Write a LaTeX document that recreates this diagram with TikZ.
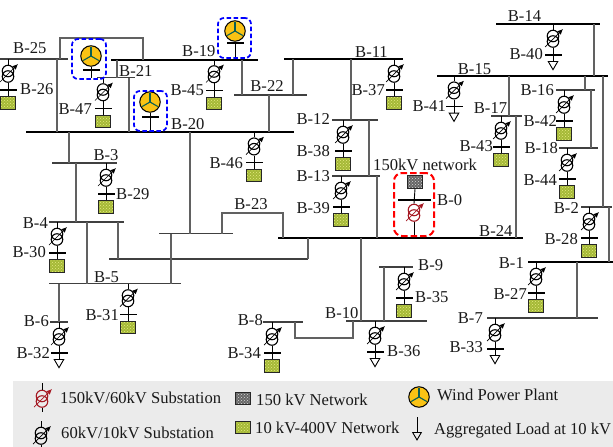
\documentclass[tikz,border=0pt]{standalone}
\usepackage{fontspec}
\setmainfont{Liberation Serif}
\usepackage{tikz}
\usetikzlibrary{shapes.geometric, arrows.meta, patterns}

\definecolor{loadgreen}{RGB}{165,185,55}
\definecolor{loaddot}{RGB}{230,235,130}
\definecolor{rotoryellow}{RGB}{250,195,20}
\definecolor{bladeteal}{RGB}{10,95,85}
\definecolor{coilred}{RGB}{165,25,35}

% busbar: name, from x, to x, y
\newcommand{\busbar}[5][]{\node[bus, #1, anchor=west, minimum width={#4pt-#3pt}] (#2) at (#3,#5) {};}
% pair of coils with tap arrow: name, x, y, colour
\newcommand{\coils}[4]{
  \node[coil, draw=#4] (#1a) at (#2,#3) {};
  \node[coil, draw=#4] (#1b) at (#2,#3+5.5) {};
  \draw[tap, #4] ([shift={(-8,11)}]#1a.center) -- ([shift={(10,-7)}]#1a.center);
}
% substation hanging from a bus: name, x, bus, tail style
\newcommand{\substation}[4]{
  \path (#2,0 |- #3) ++(0,12) node[coil] (#1a) {} ++(0,5.5) node[coil] (#1b) {} ++(0,13.5) node[stub] (#1bar) {};
  \node[#4, anchor=north] (#1tail) at ([yshift=-6pt]#1bar.center) {};
  \draw[stem] (#2,0 |- #3) -- (#1a.north);
  \draw[stem] (#1b.south) -- (#1tail.north);
  \draw[tap] ([shift={(-8,11)}]#1a.center) -- ([shift={(10,-7)}]#1a.center);
}
% wind rotor: name, x, y
\newcommand{\windrotor}[3]{
  \node[rotor] (#1) at (#2,#3) {};
  \foreach \ang in {270,30,150} {\draw[blade] (#1.center) -- ++(\ang:9);}
}

\begin{document}
\begin{tikzpicture}[
    x=1pt, y=-1pt,
    font=\fontsize{16.6}{16.6}\selectfont,
    bus/.style={rectangle, inner sep=0, outer sep=0, minimum height=1.4pt, fill=black!75},
    mainbus/.style={minimum height=2pt, fill=black},
    feeder/.style={line width=1.2pt, draw=black!62},
    coil/.style={circle, draw, line width=1.1pt, inner sep=0, minimum size=11.5pt},
    stub/.style={rectangle, inner sep=0, outer sep=0, minimum width=17pt, minimum height=1.1pt, fill=black},
    stem/.style={line width=0.9pt, draw=black},
    tap/.style={-{Latex[length=5.5pt,width=5pt]}, line width=0.7pt},
    loadbox/.style={rectangle, draw=black!85, line width=1pt, inner sep=0, minimum width=14.5pt, minimum height=12.5pt, preaction={fill=loadgreen}, pattern=crosshatch dots, pattern color=loaddot},
    netbox/.style={rectangle, draw=black!85, line width=1pt, inner sep=0, minimum width=14.5pt, minimum height=12.5pt, preaction={fill=black!60}, pattern=crosshatch dots, pattern color=black!15},
    loadtip/.style={regular polygon, regular polygon sides=3, shape border rotate=180, draw=black, line width=0.9pt, inner sep=0, minimum size=11pt},
    rotor/.style={circle, draw=black, line width=1pt, fill=rotoryellow, inner sep=0, minimum size=20.5pt},
    blade/.style={line width=1.1pt, draw=bladeteal},
    plantframe/.style={rectangle, draw=blue, line width=1.7pt, dash pattern=on 4.5pt off 2.5pt, rounded corners=6pt, inner sep=0},
    gridframe/.style={rectangle, draw=red, line width=2pt, dash pattern=on 6.5pt off 3pt, rounded corners=8pt, inner sep=0},
    lbl/.style={inner sep=0, text=black!90},
    legendbg/.style={rectangle, fill=black!8, inner sep=0, anchor=north west}
]
\useasboundingbox (0,0) rectangle (613,447);

% Legend background
\node[legendbg, minimum width=600pt, minimum height=66pt] (legend) at (13,381) {};

% Buses
\busbar{b25}{0}{68}{59}
\busbar[mainbus]{b19}{111}{258}{59.5}
\busbar{b21}{97}{135}{77.5}
\busbar{b22}{234}{307}{95}
\busbar[mainbus]{b11}{284}{403}{59}
\busbar[mainbus]{b20}{26}{294}{131.7}
\busbar{b3}{52}{117}{163}
\busbar{b4}{49}{124}{222}
\busbar{b5}{49}{181}{283.5}
\busbar{b6}{50}{68}{322}
\busbar{b23}{159}{233}{233.7}
\busbar{b4link}{109}{308}{259}
\busbar{b12}{332}{378}{120}
\busbar{b13}{332}{380}{176}
\busbar[mainbus]{b24}{278}{523}{238}
\busbar{b8}{263}{303}{322}
\busbar{b10}{346}{427}{321}
\busbar{b9}{379}{413}{267}
\busbar[mainbus]{b14}{496}{600}{24}
\busbar[mainbus]{b15}{437}{608}{75.7}
\busbar{b16}{556}{595}{90}
\busbar{b17}{491}{522}{116}
\busbar{b18}{559}{598}{148}
\busbar{b2}{581}{612}{207}
\busbar[mainbus]{b1}{528}{613}{262}
\busbar{b7}{487}{598}{318}
\busbar[stub]{b0}{398}{431}{200}

% Feeders
\draw[feeder] (57,0 |- b25) -- (57,0 |- b20);
\draw[feeder] (60,0 |- b25) -- (60,38) -| (143,0 |- b19);
\draw[feeder] (117,0 |- b19) -- (117,0 |- b21);
\draw[feeder] (129,0 |- b21) -- (129,0 |- b20);
\draw[feeder] (242,0 |- b19) -- (242,0 |- b22);
\draw[feeder] (269,0 |- b22) -- (269,0 |- b20);
\draw[feeder] (293,0 |- b11) -- (293,0 |- b22);
\draw[feeder] (351,0 |- b11) -- (351,0 |- b12);
\draw[feeder] (369,0 |- b12) -- (369,0 |- b13);
\draw[feeder] (377,0 |- b13) -- (377,0 |- b24);
\draw[feeder] (69,0 |- b20) -- (69,0 |- b3);
\draw[feeder] (76,0 |- b3) -- (76,0 |- b4);
\draw[feeder] (87,0 |- b4) -- (87,0 |- b5);
\draw[feeder] (118,0 |- b4) -- (118,0 |- b4link);
\draw[feeder] (308,0 |- b4link) -- (308,0 |- b24);
\draw[feeder] (190,0 |- b20) -- (190,0 |- b23);
\draw[feeder] (171,0 |- b23) -- (171,0 |- b5);
\draw[feeder] (222,0 |- b23) -- (222,213) -| (283,0 |- b24);
\draw[feeder] (59,0 |- b5) -- (59,0 |- b6);
\draw[feeder] (295,0 |- b8) -- (295,338) -| (353,0 |- b10);
\draw[feeder] (361,0 |- b24) -- (361,0 |- b10);
\draw[feeder] (384,0 |- b9) -- (384,0 |- b10);
\draw[feeder] (516,0 |- b17) -- (516,0 |- b24);
\draw[feeder] (509,0 |- b15) -- (509,0 |- b17);
\draw[feeder] (594,0 |- b14) -- (594,0 |- b15);
\draw[feeder] (585,0 |- b15) -- (585,0 |- b16);
\draw[feeder] (591,0 |- b16) -- (591,0 |- b18);
\draw[feeder] (603,0 |- b15) -- (603,0 |- b2);
\draw[feeder] (609,0 |- b2) -- (609,0 |- b1);
\draw[feeder] (577,0 |- b1) -- (577,0 |- b7);

% Substations
\substation{s26}{8}{b25}{loadbox}
\substation{s47}{103}{b21}{loadbox}
\substation{s45}{214}{b19}{loadbox}
\substation{s46}{254}{b20}{loadbox}
\substation{s29}{106}{b3}{loadbox}
\substation{s37}{394}{b11}{loadbox}
\substation{s38}{343}{b12}{loadbox}
\substation{s39}{341}{b13}{loadbox}
\substation{s41}{454}{b15}{loadtip}
\substation{s40}{553}{b14}{loadtip}
\substation{s43}{501}{b17}{loadbox}
\substation{s42}{564}{b16}{loadbox}
\substation{s44}{567}{b18}{loadbox}
\substation{s28}{589}{b2}{loadbox}
\substation{s27}{536}{b1}{loadbox}
\substation{s35}{404}{b9}{loadbox}
\substation{s36}{375}{b10}{loadtip}
\substation{s33}{495}{b7}{loadtip}
\substation{s34}{272}{b8}{loadbox}
\substation{s30}{57}{b4}{loadbox}
\substation{s31}{128}{b5}{loadbox}
\substation{s32}{59}{b6}{loadtip}

% Wind plants
\windrotor{w21}{91}{56}
\node[stub] (w21bar) at (91,70) {};
\draw[stem] (w21.south) -- (91,0 |- b21);
\windrotor{w20}{150}{102}
\node[stub] (w20bar) at (150,117) {};
\draw[stem] (w20.south) -- (150,0 |- b20);
\windrotor{w19}{235}{31}
\node[stub] (w19bar) at (235,43) {};
\draw[stem] (w19.south) -- (235,0 |- b19);

% 150kV infeed
\node[netbox] (net0) at (415,182) {};
\coils{s0}{414}{210}{coilred}
\draw[stem] (net0.south) -- (s0a.north);
\draw[stem] (s0b.south) -- (414,0 |- b24);

% Group frames
\node[plantframe, minimum width=34pt, minimum height=40pt] (g21) at (89,59) {};
\node[plantframe, minimum width=33pt, minimum height=40pt] (g20) at (150.5,111) {};
\node[plantframe, minimum width=33pt, minimum height=40pt] (g19) at (234.5,38) {};
\node[gridframe, minimum width=40pt, minimum height=63pt] (g0) at (414,204.5) {};

% Bus labels
\node[lbl, anchor=west] (l25) at (13,48) {B-25};
\node[lbl, anchor=west] (l26) at (20,89) {B-26};
\node[lbl, anchor=east] (l47) at (92,109) {B-47};
\node[lbl, anchor=west] (l21) at (119,71) {B-21};
\node[lbl, anchor=west] (l19) at (182,51) {B-19};
\node[lbl, anchor=east] (l45) at (204,90) {B-45};
\node[lbl, anchor=west] (l20) at (171,124) {B-20};
\node[lbl] (l22) at (267,86) {B-22};
\node[lbl] (l3) at (106,155) {B-3};
\node[lbl, anchor=east] (l46) at (243,163) {B-46};
\node[lbl, anchor=west] (l29) at (116,194) {B-29};
\node[lbl, anchor=east] (l4) at (48,223) {B-4};
\node[lbl, anchor=east] (l30) at (46,252) {B-30};
\node[lbl] (l5) at (106.5,277) {B-5};
\node[lbl, anchor=east] (l31) at (119,315) {B-31};
\node[lbl, anchor=east] (l6) at (49,321) {B-6};
\node[lbl, anchor=east] (l32) at (50,353) {B-32};
\node[lbl] (l23) at (251,204) {B-23};
\node[lbl, anchor=east] (l8) at (263,320) {B-8};
\node[lbl, anchor=east] (l34) at (261,353) {B-34};
\node[lbl, anchor=west] (l10) at (325,313) {B-10};
\node[lbl, anchor=west] (l36) at (387,351) {B-36};
\node[lbl, anchor=west] (l9) at (418,265) {B-9};
\node[lbl, anchor=west] (l35) at (415,297) {B-35};
\node[lbl] (l11) at (371.5,52) {B-11};
\node[lbl, anchor=east] (l37) at (385,90) {B-37};
\node[lbl, anchor=east] (l12) at (330,119) {B-12};
\node[lbl, anchor=east] (l38) at (330,151) {B-38};
\node[lbl, anchor=east] (l13) at (330,176) {B-13};
\node[lbl, anchor=east] (l39) at (330,208) {B-39};
\node[lbl, anchor=west] (lnet) at (373,165) {150kV network};
\node[lbl, anchor=west] (l0) at (437,200) {B-0};
\node[lbl, anchor=west] (l24) at (479,231) {B-24};
\node[lbl] (l14) at (524.5,16) {B-14};
\node[lbl, anchor=east] (l40) at (543,54) {B-40};
\node[lbl] (l15) at (474.5,69) {B-15};
\node[lbl, anchor=east] (l41) at (446,106) {B-41};
\node[lbl] (l17) at (490.5,108) {B-17};
\node[lbl, anchor=east] (l43) at (493,146) {B-43};
\node[lbl, anchor=east] (l16) at (554,90) {B-16};
\node[lbl, anchor=east] (l42) at (557,121) {B-42};
\node[lbl, anchor=east] (l18) at (558,148) {B-18};
\node[lbl, anchor=east] (l44) at (557,180) {B-44};
\node[lbl, anchor=east] (l2) at (579,208) {B-2};
\node[lbl, anchor=east] (l28) at (578,239) {B-28};
\node[lbl, anchor=east] (l1) at (524,263) {B-1};
\node[lbl, anchor=east] (l27) at (527,294) {B-27};
\node[lbl, anchor=east] (l7) at (483,318) {B-7};
\node[lbl, anchor=east] (l33) at (483,347) {B-33};

% Legend
\coordinate (kred1) at (42,383);
\coordinate (kred2) at (42,412);
\coils{kred}{42}{396}{coilred}
\draw[stem] (kred1) -- (kreda.north);
\draw[stem] (kredb.south) -- (kred2);
\coordinate (kblack1) at (41,421);
\coordinate (kblack2) at (41,447);
\coils{kblack}{41}{433}{black}
\draw[stem] (kblack1) -- (kblacka.north);
\draw[stem] (kblackb.south) -- (kblack2);
\node[lbl, anchor=base west] (tred) at (60,403.5) {150kV/60kV Substation};
\node[lbl, anchor=base west] (tblack) at (61,438.5) {60kV/10kV Substation};
\node[netbox] (knet) at (243,398.5) {};
\node[lbl, anchor=base west] (tnet) at (256,405.5) {150 kV Network};
\node[loadbox] (kload) at (243,427.5) {};
\node[lbl, anchor=base west] (tload) at (255,433.5) {10 kV-400V Network};
\windrotor{kwind}{419}{397}
\node[lbl, anchor=base west] (twind) at (437,400.5) {Wind Power Plant};
\coordinate (ktip) at (417,417);
\node[loadtip, anchor=north, minimum size=10pt] (kagg) at (417,432) {};
\draw[stem] (ktip) -- (kagg.north);
\node[lbl, anchor=base west] (tagg) at (434,434) {Aggregated Load at 10 kV};
\end{tikzpicture}
\end{document}
